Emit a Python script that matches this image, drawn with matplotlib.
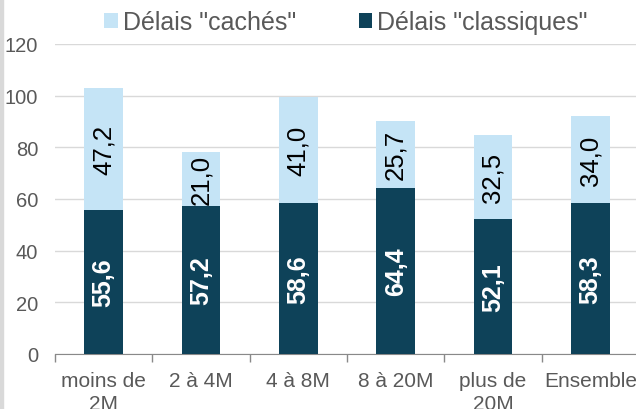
import numpy as np
import matplotlib.pyplot as plt
from matplotlib.patches import Rectangle

plt.rcParams['font.family'] = ['Liberation Sans', 'DejaVu Sans']

# Data
categories = ['moins de\n2M', '2 à 4M', '4 à 8M', '8 à 20M', 'plus de\n20M', 'Ensemble']
classiques = [55.6, 57.2, 58.6, 64.4, 52.1, 58.3]
caches = [47.2, 21.0, 41.0, 25.7, 32.5, 34.0]

dark = '#0E4259'
light = '#C5E4F6'
grey_txt = '#595959'

fig = plt.figure(figsize=(6.36, 4.10), dpi=100)
ax = fig.add_axes([55 / 636, 1 - 355 / 410, 584 / 636, 310 / 410])

x = np.arange(len(categories))
b1 = ax.bar(x, classiques, width=0.4, color=dark, label='Délais "classiques"', zorder=3)
b2 = ax.bar(x, caches, width=0.4, bottom=classiques, color=light,
            label='Délais "cachés"', zorder=3)

# value labels, rotated, comma decimal
for xi, v1, v2 in zip(x, classiques, caches):
    ax.text(xi, v1 / 2, f'{v1:.1f}'.replace('.', ','), rotation=90, ha='center',
            va='center', color='white', fontsize=18, fontweight='bold', zorder=4)
    ax.text(xi, v1 + v2 / 2, f'{v2:.1f}'.replace('.', ','), rotation=90, ha='center',
            va='center', color='black', fontsize=18.5, zorder=4)

ax.set_xlim(-0.5, len(categories) - 0.5)
ax.set_ylim(0, 120)
ax.set_yticks(range(0, 121, 20))
ax.yaxis.grid(True, color='#D9D9D9', linewidth=1, zorder=0)
ax.tick_params(axis='y', length=0, pad=12, labelsize=14.5, labelcolor=grey_txt)

ax.set_xticks(x)
ax.set_xticklabels(categories)
ax.set_xticks(np.arange(-0.5, len(categories), 1), minor=True)
ax.tick_params(axis='x', which='major', length=0, pad=12, labelsize=15, labelcolor=grey_txt)
ax.tick_params(axis='x', which='minor', length=6, color='#898989', width=1)
for lbl in ax.get_xticklabels():
    lbl.set_linespacing(1.3)

for s in ['top', 'right', 'left']:
    ax.spines[s].set_visible(False)
ax.spines['bottom'].set_color('#898989')

fig.legend(handles=[b2, b1], labels=['Délais "cachés"', 'Délais "classiques"'],
           loc='center', bbox_to_anchor=(346 / 636, 1 - 23 / 410), ncol=2,
           frameon=False, fontsize=18, handlelength=0.55, handleheight=0.55,
           handletextpad=0.2, columnspacing=2.5, labelcolor=grey_txt,
           borderpad=0, borderaxespad=0)

# thin grey strip on the left edge
fig.patches.append(Rectangle((0, 0), 3 / 636, 1, transform=fig.transFigure,
                             color='#D9D9D9', zorder=0))

fig.savefig('out.png', dpi=100)
